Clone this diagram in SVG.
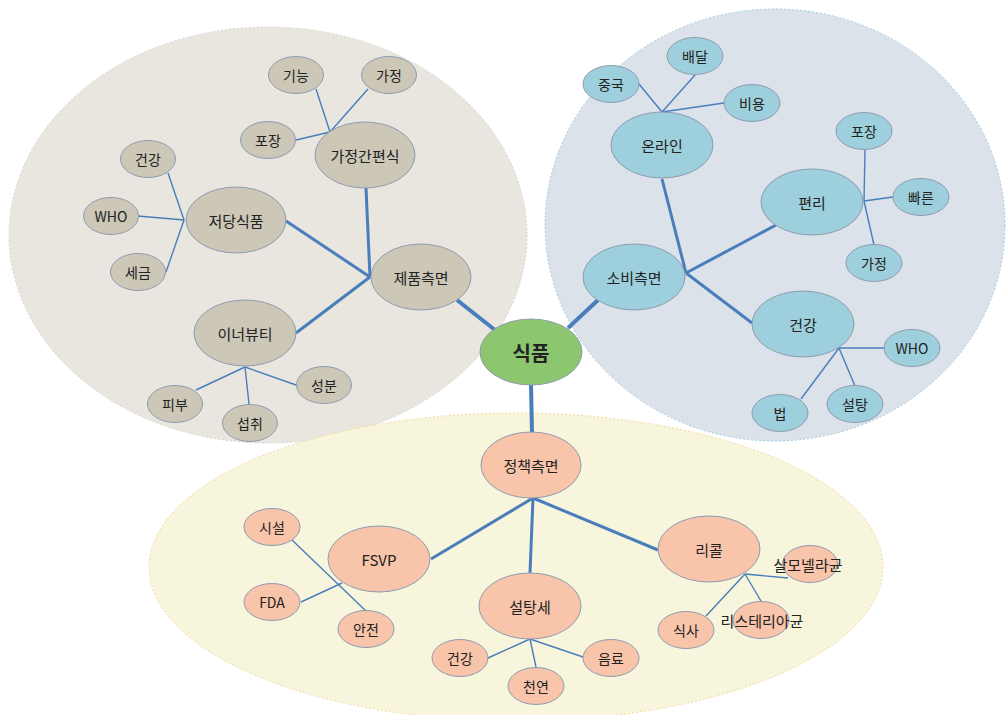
<svg xmlns="http://www.w3.org/2000/svg" width="1006" height="715" viewBox="0 0 1006 715">
<style>
text{font-family:"Noto Sans CJK KR","Noto Sans",sans-serif;fill:#222;text-anchor:middle;dominant-baseline:central}
.t{font-size:15px}
.s{font-size:14px}
.g{fill:#ccc7b7;stroke:#8e9bb0;stroke-width:1}
.b{fill:#9dd0dc;stroke:#8e9bb0;stroke-width:1}
.p{fill:#f8c4aa;stroke:#8e9bb0;stroke-width:1}
.L1{stroke:#4a7ebb;stroke-width:4;fill:none}
.L2{stroke:#4a7ebb;stroke-width:3;fill:none}
.L3{stroke:#4a7ebb;stroke-width:1.4;fill:none}
</style>
<rect width="1006" height="715" fill="#fff"/>
<g id="backgrounds">
<ellipse cx="268" cy="235" rx="259" ry="208" fill="#e8e6df" stroke="#d8d5cc" stroke-dasharray="2 2"/>
<ellipse cx="775" cy="225" rx="230" ry="216" fill="#dbe2ea" stroke="#9ecde0" stroke-dasharray="2 2"/>
<ellipse cx="516" cy="567" rx="367" ry="154" fill="#f8f5dd" stroke="#f5d79c" stroke-dasharray="2 2"/>
</g>
<g id="connectors">
<line class="L1" x1="457" y1="300" x2="495" y2="330"/>
<line class="L1" x1="568" y1="328" x2="598" y2="300"/>
<line class="L1" x1="531" y1="385" x2="532" y2="433"/>
<line class="L2" x1="370" y1="277" x2="366" y2="188"/>
<line class="L2" x1="370" y1="277" x2="286" y2="221"/>
<line class="L2" x1="370" y1="277" x2="296" y2="333"/>
<line class="L3" x1="330" y1="132" x2="316" y2="89"/>
<line class="L3" x1="330" y1="132" x2="368" y2="89"/>
<line class="L3" x1="330" y1="132" x2="296" y2="140"/>
<line class="L3" x1="184" y1="220" x2="168" y2="173"/>
<line class="L3" x1="184" y1="220" x2="138" y2="216"/>
<line class="L3" x1="184" y1="220" x2="166" y2="272"/>
<line class="L3" x1="245" y1="367" x2="196" y2="390"/>
<line class="L3" x1="245" y1="367" x2="249" y2="404"/>
<line class="L3" x1="245" y1="367" x2="296" y2="385"/>
<line class="L2" x1="686" y1="273" x2="662" y2="179"/>
<line class="L2" x1="686" y1="273" x2="776" y2="225"/>
<line class="L2" x1="686" y1="273" x2="752" y2="323"/>
<line class="L3" x1="662" y1="112" x2="639" y2="84"/>
<line class="L3" x1="662" y1="112" x2="695" y2="75"/>
<line class="L3" x1="662" y1="112" x2="724" y2="103"/>
<line class="L3" x1="864" y1="201" x2="865" y2="150"/>
<line class="L3" x1="864" y1="201" x2="893" y2="197"/>
<line class="L3" x1="864" y1="201" x2="874" y2="245"/>
<line class="L3" x1="839" y1="348" x2="884" y2="348"/>
<line class="L3" x1="839" y1="348" x2="855" y2="386"/>
<line class="L3" x1="839" y1="348" x2="801" y2="399"/>
<line class="L2" x1="533" y1="498" x2="431" y2="559"/>
<line class="L2" x1="533" y1="498" x2="530" y2="573"/>
<line class="L2" x1="533" y1="498" x2="658" y2="550"/>
<line class="L3" x1="292" y1="540" x2="366" y2="611"/>
<line class="L3" x1="342" y1="583" x2="301" y2="602"/>
<line class="L3" x1="530" y1="639" x2="488" y2="658"/>
<line class="L3" x1="530" y1="639" x2="536" y2="667"/>
<line class="L3" x1="530" y1="639" x2="583" y2="657"/>
<line class="L3" x1="745" y1="574" x2="788" y2="578"/>
<line class="L3" x1="745" y1="574" x2="761" y2="601"/>
<line class="L3" x1="745" y1="574" x2="706" y2="616"/>
</g>
<g id="n-root"><ellipse cx="531" cy="352" rx="51" ry="33" fill="#8cc66f" stroke="#8e9bb0"/><text x="531" y="352" style="font-size:20px;font-weight:bold">식품</text></g>
<g id="n-product"><ellipse class="g" cx="421" cy="277" rx="50" ry="33"/><text class="t" x="421" y="277">제품측면</text></g>
<g id="n-hmr"><ellipse class="g" cx="365" cy="155" rx="50" ry="33"/><text class="t" x="365" y="155">가정간편식</text></g>
<g id="n-lowsugar"><ellipse class="g" cx="236" cy="220" rx="50" ry="33"/><text class="t" x="236" y="220">저당식품</text></g>
<g id="n-innerbeauty"><ellipse class="g" cx="245" cy="333" rx="51" ry="33"/><text class="t" x="245" y="333">이너뷰티</text></g>
<g id="n-func"><ellipse class="g" cx="296" cy="75" rx="27.5" ry="18.5"/><text class="s" x="296" y="75">기능</text></g>
<g id="n-home1"><ellipse class="g" cx="389" cy="75" rx="27.5" ry="18.5"/><text class="s" x="389" y="75">가정</text></g>
<g id="n-pack1"><ellipse class="g" cx="268" cy="140" rx="27.5" ry="18.5"/><text class="s" x="268" y="140">포장</text></g>
<g id="n-health1"><ellipse class="g" cx="148" cy="159" rx="27.5" ry="18.5"/><text class="s" x="148" y="159">건강</text></g>
<g id="n-who1"><ellipse class="g" cx="111" cy="216" rx="27.5" ry="18.5"/><text class="s" x="111" y="216">WHO</text></g>
<g id="n-tax"><ellipse class="g" cx="138" cy="272" rx="27.5" ry="18.5"/><text class="s" x="138" y="272">세금</text></g>
<g id="n-skin"><ellipse class="g" cx="175" cy="404" rx="27.5" ry="18.5"/><text class="s" x="175" y="404">피부</text></g>
<g id="n-intake"><ellipse class="g" cx="250" cy="423" rx="27.5" ry="18.5"/><text class="s" x="250" y="423">섭취</text></g>
<g id="n-ingredient"><ellipse class="g" cx="324" cy="385" rx="27.5" ry="18.5"/><text class="s" x="324" y="385">성분</text></g>
<g id="n-consumer"><ellipse class="b" cx="634" cy="277" rx="51" ry="33"/><text class="t" x="634" y="277">소비측면</text></g>
<g id="n-online"><ellipse class="b" cx="662" cy="145" rx="51" ry="33"/><text class="t" x="662" y="145">온라인</text></g>
<g id="n-convenience"><ellipse class="b" cx="812" cy="202" rx="51" ry="33"/><text class="t" x="812" y="202">편리</text></g>
<g id="n-health2"><ellipse class="b" cx="803" cy="324" rx="51" ry="33"/><text class="t" x="803" y="324">건강</text></g>
<g id="n-delivery"><ellipse class="b" cx="695" cy="56" rx="28" ry="18.5"/><text class="s" x="695" y="56">배달</text></g>
<g id="n-china"><ellipse class="b" cx="611" cy="84" rx="28" ry="18.5"/><text class="s" x="611" y="84">중국</text></g>
<g id="n-cost"><ellipse class="b" cx="752" cy="103" rx="28" ry="18.5"/><text class="s" x="752" y="103">비용</text></g>
<g id="n-pack2"><ellipse class="b" cx="864" cy="131" rx="28" ry="18.5"/><text class="s" x="864" y="131">포장</text></g>
<g id="n-fast"><ellipse class="b" cx="921" cy="197" rx="28" ry="18.5"/><text class="s" x="921" y="197">빠른</text></g>
<g id="n-home2"><ellipse class="b" cx="874" cy="263" rx="28" ry="18.5"/><text class="s" x="874" y="263">가정</text></g>
<g id="n-who2"><ellipse class="b" cx="912" cy="348" rx="28" ry="18.5"/><text class="s" x="912" y="348">WHO</text></g>
<g id="n-sugar"><ellipse class="b" cx="855" cy="404" rx="28" ry="18.5"/><text class="s" x="855" y="404">설탕</text></g>
<g id="n-law"><ellipse class="b" cx="780" cy="413" rx="28" ry="18.5"/><text class="s" x="780" y="413">법</text></g>
<g id="n-policy"><ellipse class="p" cx="531" cy="465" rx="50" ry="33"/><text class="t" x="531" y="465">정책측면</text></g>
<g id="n-fsvp"><ellipse class="p" cx="379" cy="559" rx="51" ry="33"/><text class="t" x="379" y="559">FSVP</text></g>
<g id="n-sugartax"><ellipse class="p" cx="530" cy="606" rx="51" ry="33"/><text class="t" x="530" y="606">설탕세</text></g>
<g id="n-recall"><ellipse class="p" cx="709" cy="549" rx="51" ry="33"/><text class="t" x="709" y="549">리콜</text></g>
<g id="n-facility"><ellipse class="p" cx="272" cy="527" rx="28" ry="18.5"/><text class="s" x="272" y="527">시설</text></g>
<g id="n-fda"><ellipse class="p" cx="272" cy="602" rx="28" ry="18.5"/><text class="s" x="272" y="602">FDA</text></g>
<g id="n-safety"><ellipse class="p" cx="366" cy="629" rx="28" ry="18.5"/><text class="s" x="366" y="629">안전</text></g>
<g id="n-health3"><ellipse class="p" cx="460" cy="658" rx="28" ry="18.5"/><text class="s" x="460" y="658">건강</text></g>
<g id="n-natural"><ellipse class="p" cx="536" cy="686" rx="28" ry="18.5"/><text class="s" x="536" y="686">천연</text></g>
<g id="n-beverage"><ellipse class="p" cx="611" cy="658" rx="28" ry="18.5"/><text class="s" x="611" y="658">음료</text></g>
<g id="n-meal"><ellipse class="p" cx="686" cy="630" rx="28" ry="18.5"/><text class="s" x="686" y="630">식사</text></g>
<g id="n-salmonella"><ellipse class="p" cx="810" cy="564" rx="27.5" ry="18.5"/><text class="t" x="808" y="564">살모넬라균</text></g>
<g id="n-listeria"><ellipse class="p" cx="761" cy="620" rx="28" ry="18.5"/><text class="t" x="762" y="620">리스테리아균</text></g>
</svg>
